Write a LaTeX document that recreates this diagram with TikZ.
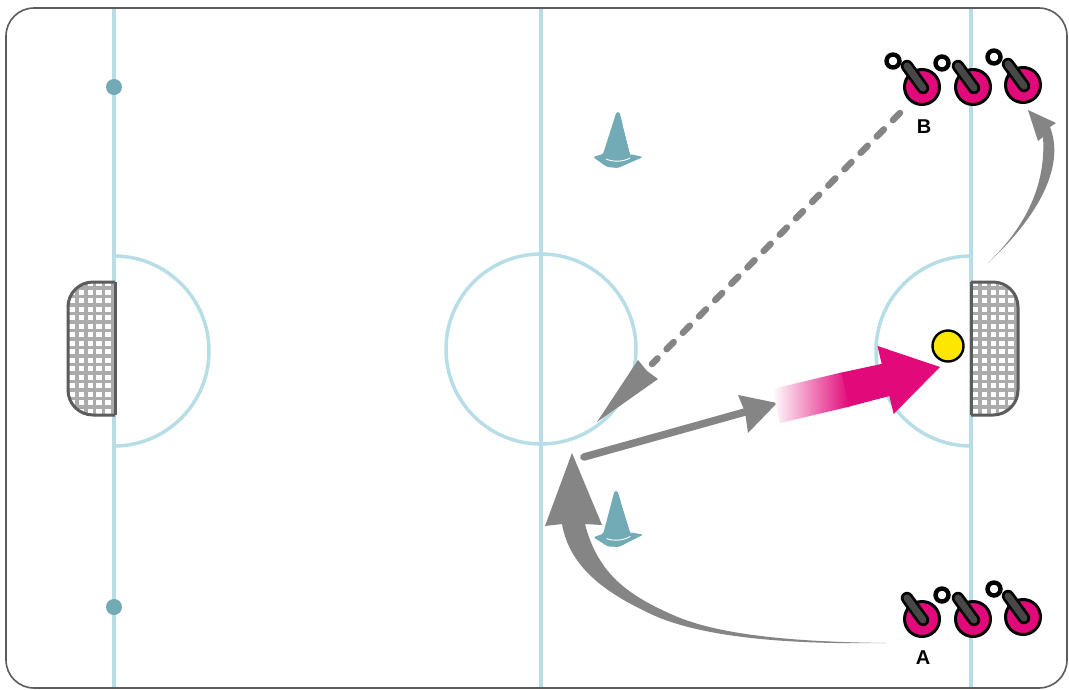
\documentclass[tikz,border=0pt]{standalone}
\usepackage{fontspec}
\setmainfont{Liberation Sans}
\usepackage{xcolor}
\usetikzlibrary{calc}
\definecolor{rinkline}{HTML}{B7DEE6}
\definecolor{conecol}{HTML}{72ABB5}
\definecolor{runcol}{HTML}{858585}
\definecolor{shotcol}{HTML}{E20A7A}
\definecolor{ballcol}{HTML}{FFE600}
\definecolor{netcol}{HTML}{ABABAB}
\definecolor{goalcol}{HTML}{5C5C5C}
\tikzset{
  boards/.style={draw=goalcol, line width=1.6pt, rounded corners=28pt, fill=white},
  rinkmark/.style={draw=rinkline, line width=3.5pt},
  faceoff/.style={circle, fill=conecol, minimum size=16pt, inner sep=0pt},
  goalframe/.style={draw=goalcol, line width=3pt, line join=round},
  netline/.style={draw=netcol, line width=3.4pt},
  player/.style={circle, draw=black, line width=3pt, fill=shotcol, minimum size=35pt, inner sep=0pt},
  stickout/.style={draw=black, line width=12.5pt, line cap=round},
  stickin/.style={draw=black!72, line width=7pt, line cap=round},
  puck/.style={circle, draw=black, line width=4.4pt, fill=white, minimum size=13pt, inner sep=0pt},
  tag/.style={font=\bfseries\fontsize{20}{20}\selectfont, inner sep=0pt},
  run/.style={fill=runcol},
  passline/.style={draw=runcol, line width=6.5pt, line cap=round, dash pattern=on 10pt off 13pt},
  skateline/.style={draw=runcol, line width=7.5pt, line cap=round},
  ball/.style={circle, draw=black, line width=2.4pt, fill=ballcol, minimum size=31pt, inner sep=0pt},
}
\begin{document}
\begin{tikzpicture}[x=1pt, y=-1pt]
\useasboundingbox (0,0) rectangle (1069,689);
\fill[white] (0,0) rectangle (1069,689);
\draw[boards] (6,8) rectangle (1067,688);
% rink lines
\foreach \linex in {114,541,971}
  \draw[rinkmark] (\linex,9) -- (\linex,687);
\draw[rinkmark] (114,256) arc (-90:90:95);
\draw[rinkmark] (971,256) arc (-90:-270:95);
\draw[rinkmark] (541,349) circle (95);
\node[faceoff] (dottop) at (114,87) {};
\node[faceoff] (dotbot) at (114,607) {};
% goals
\begin{scope}
\clip (115,282) [rounded corners=25pt] -- (68,282) -- (68,415) [sharp corners] -- (115,415) -- cycle;
\foreach \gx in {77,85.8,...,115} \draw[netline] (\gx,282) -- (\gx,415);
\foreach \gy in {288,296.5,...,415} \draw[netline] (68,\gy) -- (115,\gy);
\end{scope}
\draw[goalframe, rounded corners=25pt] (115,282) -- (68,282) -- (68,415) -- (115,415);
\draw[goalframe] (115,282) -- (115,415);
\begin{scope}
\clip (971,282) [rounded corners=25pt] -- (1018,282) -- (1018,415) [sharp corners] -- (971,415) -- cycle;
\foreach \gx in {980,988.8,...,1018} \draw[netline] (\gx,282) -- (\gx,415);
\foreach \gy in {288,296.5,...,415} \draw[netline] (971,\gy) -- (1018,\gy);
\end{scope}
\draw[goalframe, rounded corners=25pt] (971,282) -- (1018,282) -- (1018,415) -- (971,415);
\draw[goalframe] (971,282) -- (971,415);
% cones
\foreach \conex/\coney/\conerot in {618/112/0, 616/491/3}{
  \begin{scope}[shift={(\conex,\coney)}, rotate=\conerot]
    \fill[conecol, rounded corners=1.5pt] (-1.5,0) -- (1.5,0) -- (12,42) -- (25,45) -- (0,56) -- (-11,55) -- (-25,45) -- (-15,42) -- cycle;
    \draw[white, line width=0.9pt] (-12,47) .. controls (-5,50) and (5,50) .. (12,46);
    \draw[white, line width=0.9pt] (5,12) -- (13,43);
  \end{scope}
}
% players
\foreach \pname/\px/\py in {bone/922/87, btwo/973/87, bthree/1023/85, aone/922/619, atwo/973/619, athree/1023/617}{
  \node[player] (\pname) at (\px,\py) {};
  \draw[stickout] (\px-15,\py-21) -- (\px+1,\py+1);
  \draw[stickin] (\px-15,\py-21) -- (\px+1,\py+1);
}
\foreach \kname/\kx/\ky in {pone/893/61, ptwo/942/63, pthree/994/57, pfour/942/595, pfive/994/589}
  \node[puck] (\kname) at (\kx,\ky) {};
\node[tag] (labb) at (924,127) {B};
\node[tag] (laba) at (923,658) {A};
% runs and pass
\coordinate (passstart) at (900,113);
\coordinate (passend) at (652,364);
\draw[passline] (passstart) -- (passend);
\fill[run] (597,422) -- (658,379) -- (647,371) -- (638,360) -- cycle;
\coordinate (skatestart) at (584,457);
\coordinate (skatetip) at (777,403);
\draw[skateline] (skatestart) -- (745,412);
\fill[run] (skatetip) -- (738,395) -- (745,412) -- (748,433) -- cycle;
% curved run of A
\fill[run] (887,643) .. controls (800,642) and (720,636) .. (673,615) .. controls (630,596) and (598,575) .. (585,524) -- (602,525) -- (572,453) -- (545,526) -- (562,524) .. controls (570,570) and (610,595) .. (653,615) .. controls (695,634) and (770,645) .. (887,643) -- cycle;
% curved run to the back of the line
\fill[run] (988,263) .. controls (1015,237) and (1047,195) .. (1043,137) -- (1038,141) -- (1028,110) -- (1056,123) -- (1050,127) .. controls (1065,165) and (1040,215) .. (988,263) -- cycle;
% shot
\begin{scope}[shift={(940,367)}, rotate=13.4]
  \fill[shotcol] (0,0) -- (-56,35) -- (-56,16.5) -- (-100,17.5) -- (-100,-17.5) -- (-56,-16.5) -- (-56,-35) -- cycle;
  \node[left color=white, right color=shotcol, minimum width=71pt, minimum height=35pt, inner sep=0pt, rotate=13.4] (shotfade) at (-133,0) {};
\end{scope}
\node[ball] (puckball) at (948,346) {};
\end{tikzpicture}
\end{document}
